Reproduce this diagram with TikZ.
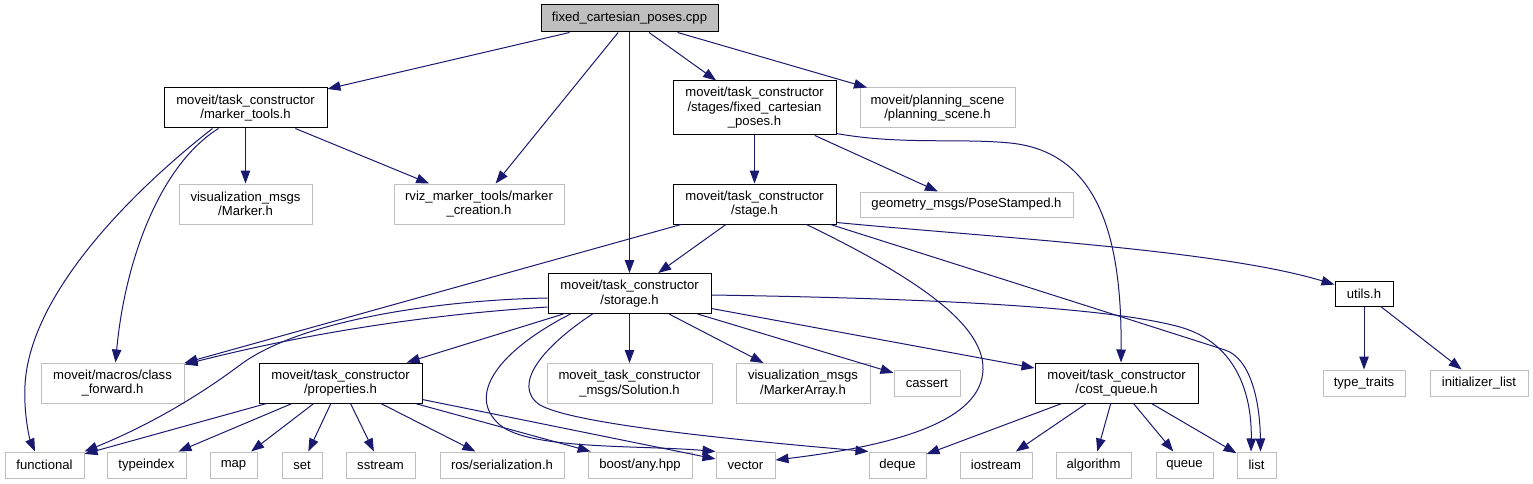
\documentclass[tikz,border=0pt]{standalone}
\usepackage{fontspec}
\setmainfont{Liberation Sans}
\usetikzlibrary{arrows.meta}
\definecolor{edgeblue}{HTML}{191970}
\definecolor{grey75}{HTML}{BFBFBF}
\begin{document}
\begin{tikzpicture}[x=1pt,y=-1pt,
  box/.style={inner sep=0pt, align=center, font=\fontsize{13.1}{14.5}\selectfont, fill=white, line width=1pt},
  ext/.style={box, draw=grey75},
  doc/.style={box, draw=black},
  two/.style={minimum height=40pt},
  one/.style={minimum height=26pt},
  dep/.style={draw=edgeblue, line width=1pt, -{Triangle[length=13pt,width=9.5pt]}}]
\useasboundingbox (0,0) rectangle (1533,484);
% nodes
\node[doc, fill=grey75, minimum width=177pt, minimum height=27pt] (root) at (629.5,18.5) {fixed\_cartesian\_poses.cpp};
\node[doc, two, minimum width=163pt] (mt) at (245.5,108) {moveit/task\_constructor\\/marker\_tools.h};
\node[doc, minimum width=163pt, minimum height=54pt] (fcp) at (754.5,108) {moveit/task\_constructor\\/stages/fixed\_cartesian\\\_poses.h};
\node[ext, two, minimum width=155pt] (ps) at (937.5,108) {moveit/planning\_scene\\/planning\_scene.h};
\node[ext, two, minimum width=133pt] (vm) at (245.5,204) {visualization\_msgs\\/Marker.h};
\node[ext, two, minimum width=170pt] (rviz) at (479,204) {rviz\_marker\_tools/marker\\\_creation.h};
\node[doc, two, minimum width=163pt] (stage) at (754.5,204) {moveit/task\_constructor\\/stage.h};
\node[ext, minimum width=213pt, minimum height=25pt] (gm) at (966.5,204.5) {geometry\_msgs/PoseStamped.h};
\node[doc, two, minimum width=163pt] (storage) at (629.5,293.5) {moveit/task\_constructor\\/storage.h};
\node[doc, minimum width=58pt, minimum height=25pt] (utils) at (1364,293.5) {utils.h};
\node[ext, two, minimum width=143pt] (cf) at (112.5,383) {moveit/macros/class\\\_forward.h};
\node[doc, two, minimum width=163pt] (props) at (340.5,383) {moveit/task\_constructor\\/properties.h};
\node[ext, two, minimum width=165pt] (sol) at (629.5,383.5) {moveit\_task\_constructor\\\_msgs/Solution.h};
\node[ext, two, minimum width=134pt] (ma) at (803,383.5) {visualization\_msgs\\/MarkerArray.h};
\node[ext, one, minimum width=66pt] (cassert) at (927,383) {cassert};
\node[doc, two, minimum width=163pt] (cq) at (1116.5,383) {moveit/task\_constructor\\/cost\_queue.h};
\node[ext, one, minimum width=82pt] (tt) at (1364,383) {type\_traits};
\node[ext, one, minimum width=98pt] (il) at (1479,383) {initializer\_list};
\node[ext, one, minimum width=79pt] (functional) at (44.5,465) {functional};
\node[ext, one, minimum width=79pt] (typeindex) at (146.5,465) {typeindex};
\node[ext, one, minimum width=47pt] (map) at (233.5,465) {map};
\node[ext, one, minimum width=40pt] (set) at (302,465) {set};
\node[ext, one, minimum width=69pt] (sstream) at (380.5,465) {sstream};
\node[ext, one, minimum width=124pt] (ros) at (502,465) {ros/serialization.h};
\node[ext, one, minimum width=104pt] (boost) at (640,465) {boost/any.hpp};
\node[ext, one, minimum width=59pt] (vector) at (745.5,465) {vector};
\node[ext, one, minimum width=57pt] (deque) at (897.5,465) {deque};
\node[ext, one, minimum width=72pt] (iostream) at (996,465) {iostream};
\node[ext, one, minimum width=75pt] (algorithm) at (1093.5,465) {algorithm};
\node[ext, one, minimum width=57pt] (queue) at (1184.5,465) {queue};
\node[ext, one, minimum width=39pt] (list) at (1256.5,465) {list};
% root edges
\draw[dep] (root) -- (mt);
\draw[dep] (root) -- (rviz);
\draw[dep] (root) -- (storage);
\draw[dep] (root) -- (fcp);
\draw[dep] (root) -- (ps);
% marker_tools edges
\draw[dep] (mt) -- (vm);
\draw[dep] (mt) -- (rviz);
\draw[dep] ([xshift=55pt]mt.south west) .. controls (160,165) and (125,260) .. ([xshift=3pt]cf.north);
\draw[dep] ([xshift=49pt]mt.south west) .. controls (140,185) and (30,290) .. (25,385) .. controls (23.5,415) and (30,440) .. ([xshift=-9.5pt]functional.north);
% fixed_cartesian_poses.h edges
\draw[dep] (fcp) -- (stage);
\draw[dep] (fcp) -- (gm);
\draw[dep] ([yshift=2pt]fcp.south east) .. controls (900,145) and (960,138) .. (1010,143) .. controls (1100,152) and (1122,240) .. ([xshift=4.5pt]cq.north);
% stage edges
\draw[dep] (stage) -- (cf);
\draw[dep] (stage) -- (storage);
\draw[dep] ([xshift=-30pt]stage.south east) .. controls (900,270) and (985,320) .. (983,370) .. controls (981,420) and (900,445) .. ([yshift=5pt]vector.east);
\draw[dep] ([xshift=-6pt]stage.south east) .. controls (960,265.5) and (1100,310) .. (1225,350) .. controls (1250,358) and (1260,400) .. ([xshift=4pt]list.north);
\draw[dep] ([yshift=2pt]stage.south east) .. controls (1000,238) and (1220,250) .. (utils);
% storage edges
\draw[dep] ([yshift=-4.5pt]storage.west) .. controls (440,300) and (300,320) .. (240,365) .. controls (200,395) and (150,425) .. (functional.north east);
\draw[dep] ([yshift=-13.5pt]storage.west) .. controls (420,315) and (300,335) .. ([yshift=-2pt]cf.north east);
\draw[dep] (storage) -- (props);
\draw[dep] ([xshift=23pt]storage.south west) .. controls (500,350) and (465,395) .. (500,425) .. controls (530,450) and (640,445) .. (vector.north west);
\draw[dep] ([xshift=45pt]storage.south west) .. controls (545,345) and (510,385) .. (540,405) .. controls (570,422) and (700,437) .. (deque.north west);
\draw[dep] (storage) -- (sol);
\draw[dep] (storage) -- (ma);
\draw[dep] (storage) -- (cassert);
\draw[dep] (storage) -- (cq);
\draw[dep] ([yshift=-1.5pt]storage.east) .. controls (900,298) and (1100,305) .. (1180,327) .. controls (1240,344) and (1252,400) .. ([xshift=-5.5pt]list.north);
% properties edges
\foreach \t in {functional,typeindex,map,set,sstream,ros,boost,vector} \draw[dep] (props) -- (\t);
% cost_queue edges
\foreach \t in {deque,iostream,algorithm,queue,list} \draw[dep] (cq) -- (\t);
% utils edges
\draw[dep] (utils) -- (tt);
\draw[dep] (utils) -- (il);
\end{tikzpicture}
\end{document}
